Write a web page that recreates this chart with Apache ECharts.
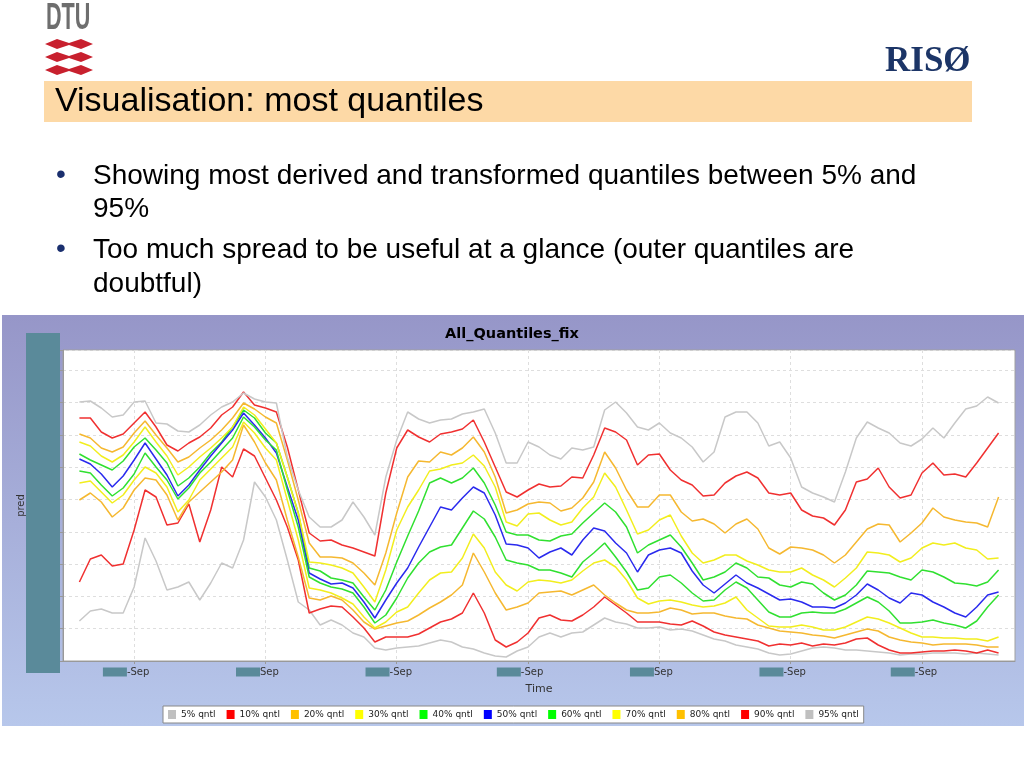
<!DOCTYPE html>
<html><head><meta charset="utf-8">
<script src="https://cdn.jsdelivr.net/npm/echarts@6/dist/echarts.min.js"></script>
<style>html,body{margin:0;padding:0;background:#fff}#c{width:1024px;height:768px}</style>
</head><body><div id="c"></div>
<script>
// sample times (hours relative to first tick)
const hours = [-10,-8,-6,-4,-2,0,2,4,6,8,10,12,14,16,18,20,22,24,26,28,30,32,34,36,38,40,
  42,44,46,48,50,52,54,56,58,60,62,64,66,68,70,72,74,76,78,80,82,84,86,88,90,92,94,96,
  98,100,102,104,106,108,110,112,114,116,118,120,122,124,126,128,130,132,134,136,138,140,142,144,146,148,150,152,154,156,158];

const q5 = [40,50,52,48,48,74,123,100,71,74,79,61,78,98,93,121,179,164,141,101,59,51,36,41,36,28,
  24,13,11,13,14,15,18,21,19,14,12,8,5,4,10,14,24,28,24,28,29,36,43,39,37,33,33,34,
  31,32,30,26,22,20,16,14,12,8,6,7,10,13,14,13,11,11,10,9,8,6,7,7,8,8,8,7,8,7,6];
const q10 = [79,102,106,95,97,131,171,164,136,138,157,119,151,194,184,212,205,183,161,134,101,48,52,55,54,44,
  33,19,24,24,24,27,33,39,42,48,68,48,21,14,19,28,43,46,41,40,46,54,64,56,48,39,39,39,
  37,36,40,35,29,26,24,22,20,15,17,16,18,15,17,16,18,22,23,16,11,8,8,9,10,10,11,10,8,11,8];
const q20 = [161,168,159,144,153,171,183,181,166,141,159,169,179,189,201,236,219,198,181,141,104,63,61,65,61,51,
  39,32,35,38,40,46,53,59,66,76,108,89,68,51,54,58,68,69,70,66,71,76,66,58,51,48,48,49,
  53,51,47,48,48,45,43,42,36,33,30,29,28,26,25,23,26,29,32,30,24,21,19,18,16,17,17,17,16,14,14];
const q30 = [178,180,169,158,166,181,194,188,174,149,161,181,192,203,214,239,228,213,201,161,121,73,71,68,63,57,
  44,33,39,49,54,68,81,88,89,103,127,113,89,76,70,79,81,80,78,81,90,98,101,94,81,63,57,60,
  61,59,56,54,55,58,64,51,43,35,34,34,36,34,31,31,34,39,44,42,38,33,28,24,24,23,23,22,22,20,24];
const q40 = [207,201,196,191,200,214,223,211,198,175,183,194,208,219,234,251,243,228,218,184,148,93,90,83,81,78,
  64,51,71,99,125,150,178,183,178,183,193,178,156,129,126,126,121,120,125,127,138,148,158,149,134,108,116,121,
  126,114,98,81,84,89,98,93,84,83,76,74,79,77,68,61,66,76,90,89,88,84,81,91,89,84,78,77,75,79,91];
const q50 = [202,197,187,174,185,201,218,202,186,165,176,191,205,218,231,248,236,223,208,174,141,88,82,77,78,73,
  59,43,61,78,93,114,134,154,151,163,174,168,146,117,116,113,103,109,113,106,121,133,130,118,108,89,106,111,
  113,108,90,76,68,77,86,78,73,67,61,62,59,54,54,53,58,66,77,71,63,58,68,66,59,54,48,44,54,66,69];
const q60 = [190,188,176,165,173,187,208,194,181,162,173,188,199,211,223,244,234,221,211,171,134,84,78,74,72,68,
  54,38,46,63,83,98,109,114,116,133,150,142,124,101,98,96,91,91,88,84,99,108,118,104,89,71,73,84,
  86,78,68,60,61,71,79,73,61,49,44,44,48,49,48,48,52,58,64,59,50,38,38,39,41,38,36,33,40,54,66];
const q70 = [219,215,205,199,206,219,234,219,205,186,194,204,213,223,234,254,246,232,218,184,148,99,98,96,93,88,
  74,59,91,131,154,171,190,192,196,198,206,195,174,139,135,147,148,141,136,139,153,164,188,174,151,127,131,141,
  146,125,108,98,101,106,106,100,96,91,89,89,93,86,81,74,83,93,109,108,106,99,103,113,118,116,118,113,111,102,103];
const q80 = [227,223,213,209,214,228,240,226,213,199,204,213,221,231,243,258,252,244,238,201,161,118,104,104,103,98,
  88,76,108,148,184,200,199,209,206,213,224,209,184,148,151,157,159,158,150,153,163,179,209,193,171,154,154,166,
  166,149,140,142,137,128,137,142,132,113,107,114,113,111,106,98,106,119,132,137,136,119,128,138,153,144,141,139,138,134,164];
const q90 = [243,243,229,223,227,238,249,234,216,210,218,224,233,246,254,269,256,253,249,214,171,128,120,121,116,113,
  109,105,168,213,231,224,219,227,229,232,241,219,194,169,164,171,177,174,175,184,183,206,233,229,221,196,206,207,
  191,181,176,165,166,178,185,189,183,168,166,168,151,145,143,136,151,179,182,193,174,163,166,188,198,186,187,184,198,213,228];
const q95 = [259,260,253,244,246,259,260,238,237,230,229,236,246,254,259,268,262,259,258,204,171,144,134,134,141,159,
  144,126,184,221,249,242,238,241,242,247,249,252,228,198,198,219,214,206,202,213,211,214,251,259,248,234,231,238,
  228,223,214,199,209,244,249,249,238,215,219,203,174,168,164,159,189,223,239,233,228,218,215,222,233,223,238,252,255,264,258];

const seriesNames = ['5% qntl','10% qntl','20% qntl','30% qntl','40% qntl','50% qntl','60% qntl','70% qntl','80% qntl','90% qntl','95% qntl'];
const seriesValues = [q5,q10,q20,q30,q40,q50,q60,q70,q80,q90,q95];
const legendColors = ['#c0c0c0','#ff0000','#ffc000','#ffff00','#00ff00','#0000ff','#00ff00','#ffff00','#ffc000','#ff0000','#c0c0c0'];
const lineColors = ['#c8c8c8','#f03030','#f5b830','#f2ee1e','#30e030','#2a2aee','#30e030','#f2ee1e','#f5b830','#f03030','#c8c8c8'];

const tickHours = [0,24,48,72,96,120,144];
const tickLabels = ['-Sep','Sep','-Sep','-Sep','Sep','-Sep','-Sep'];
const catStart = -13, catEnd = 161;

const cats = [];
for (let h = catStart; h <= catEnd; h++) cats.push(String(h));
const isTick = (i) => tickHours.indexOf(i + catStart) >= 0;

const chart = echarts.init(document.getElementById('c'));
const FF = 'DejaVu Sans';
const SF = 'Liberation Sans';

function dtuArrow(cy) {
  return { type: 'polygon', z: 5,
    shape: { points: [[45,cy],[57,cy-5],[69,cy-1],[81,cy-5],[93,cy],[81,cy+5],[69,cy+1],[57,cy+5]] },
    style: { fill: '#c8202e' } };
}

const graphics = [
  { type: 'rect', z: -100, shape: { x: 2, y: 315, width: 1022, height: 411 },
    style: { fill: new echarts.graphic.LinearGradient(0,0,0,1,[{offset:0,color:'#9696c8'},{offset:1,color:'#b7c7eb'}]) } },
  { type: 'text', x: 46, y: 19, scaleX: 0.6, z: 5,
    style: { text: 'DTU', font: 'bold 36px "Liberation Sans"', fill: '#6e6e6e', textAlign: 'left', textVerticalAlign: 'middle' } },
  dtuArrow(44), dtuArrow(57), dtuArrow(70),
  { type: 'text', x: 885, y: 62, z: 5,
    style: { text: 'RISØ', font: 'bold 35px "Liberation Serif"', fill: '#1c3567', textAlign: 'left', textVerticalAlign: 'middle' } },
  { type: 'rect', z: 1, shape: { x: 44, y: 81, width: 928, height: 41 }, style: { fill: '#fdd9a6' } },
  { type: 'text', x: 55, y: 102, z: 5,
    style: { text: 'Visualisation: most quantiles', font: '34px "' + SF + '"', fill: '#000', textAlign: 'left', textVerticalAlign: 'middle' } },
  { type: 'text', x: 56, y: 175, z: 5, style: { text: '•', font: '28px "' + SF + '"', fill: '#1a2f6e', textAlign: 'left', textVerticalAlign: 'middle' } },
  { type: 'text', x: 93, y: 176, z: 5, style: { text: 'Showing most derived and transformed quantiles between 5% and', font: '28px "' + SF + '"', fill: '#000', textAlign: 'left', textVerticalAlign: 'middle' } },
  { type: 'text', x: 93, y: 209, z: 5, style: { text: '95%', font: '28px "' + SF + '"', fill: '#000', textAlign: 'left', textVerticalAlign: 'middle' } },
  { type: 'text', x: 56, y: 249, z: 5, style: { text: '•', font: '28px "' + SF + '"', fill: '#1a2f6e', textAlign: 'left', textVerticalAlign: 'middle' } },
  { type: 'text', x: 93, y: 250, z: 5, style: { text: 'Too much spread to be useful at a glance (outer quantiles are', font: '28px "' + SF + '"', fill: '#000', textAlign: 'left', textVerticalAlign: 'middle' } },
  { type: 'text', x: 93, y: 284, z: 5, style: { text: 'doubtful)', font: '28px "' + SF + '"', fill: '#000', textAlign: 'left', textVerticalAlign: 'middle' } },
  { type: 'rect', z: 100, shape: { x: 26, y: 333, width: 34, height: 340 }, style: { fill: '#5a8a9a' } }
];

const option = {
  animation: false,
  textStyle: { fontFamily: FF },
  title: { text: 'All_Quantiles_fix', left: 'center', top: 322,
    textStyle: { fontSize: 14.5, fontWeight: 'bold', color: '#000', fontFamily: FF } },
  legend: {
    left: 163, top: 706, icon: 'rect', itemWidth: 8, itemHeight: 9, itemGap: 11,
    padding: [4, 5], backgroundColor: '#fff', borderColor: '#888', borderWidth: 1,
    textStyle: { fontSize: 9, color: '#222', fontFamily: FF },
    data: seriesNames.map((n, i) => ({ name: n, itemStyle: { color: legendColors[i] } }))
  },
  grid: { left: 63, top: 350, width: 952, height: 311, show: true, backgroundColor: '#fff', borderColor: '#a0a0a0', borderWidth: 1 },
  xAxis: {
    type: 'category', data: cats, boundaryGap: false,
    name: 'Time', nameLocation: 'middle', nameGap: 23,
    nameTextStyle: { fontSize: 11, color: '#333', fontFamily: FF },
    axisLine: { lineStyle: { color: '#999' } },
    axisTick: { interval: (i) => isTick(i), length: 3, lineStyle: { color: '#999' } },
    axisLabel: {
      interval: (i) => isTick(i), margin: 5,
      formatter: (v) => { const k = tickHours.indexOf(+v); return '{b|}{t|' + tickLabels[k] + '}{s|}'; },
      rich: { b: { width: 24, height: 9, backgroundColor: '#5a8a9a' },
              t: { fontSize: 10, color: '#333', fontFamily: FF },
              s: { width: 16 } }
    },
    splitLine: { show: true, interval: (i) => isTick(i), lineStyle: { color: '#dedede', type: [3, 3] } }
  },
  yAxis: {
    type: 'value', min: 0, max: 311, interval: 32.3,
    name: 'pred', nameLocation: 'middle', nameGap: 37,
    nameTextStyle: { fontSize: 10, color: '#333', fontFamily: FF },
    axisLabel: { show: false },
    axisLine: { show: true, lineStyle: { color: '#999' } },
    axisTick: { show: true, length: 4, lineStyle: { color: '#999' } },
    splitLine: { lineStyle: { color: '#dedede', type: [3, 3] } }
  },
  graphic: { elements: graphics },
  series: seriesValues.map((vals, i) => ({
    name: seriesNames[i], type: 'line', symbol: 'none', showSymbol: false,
    itemStyle: { color: legendColors[i] },
    lineStyle: { color: lineColors[i], width: 1.5 },
    data: hours.map((h, j) => [h - catStart, vals[j]])
  }))
};
chart.setOption(option);
</script>
</body></html>
